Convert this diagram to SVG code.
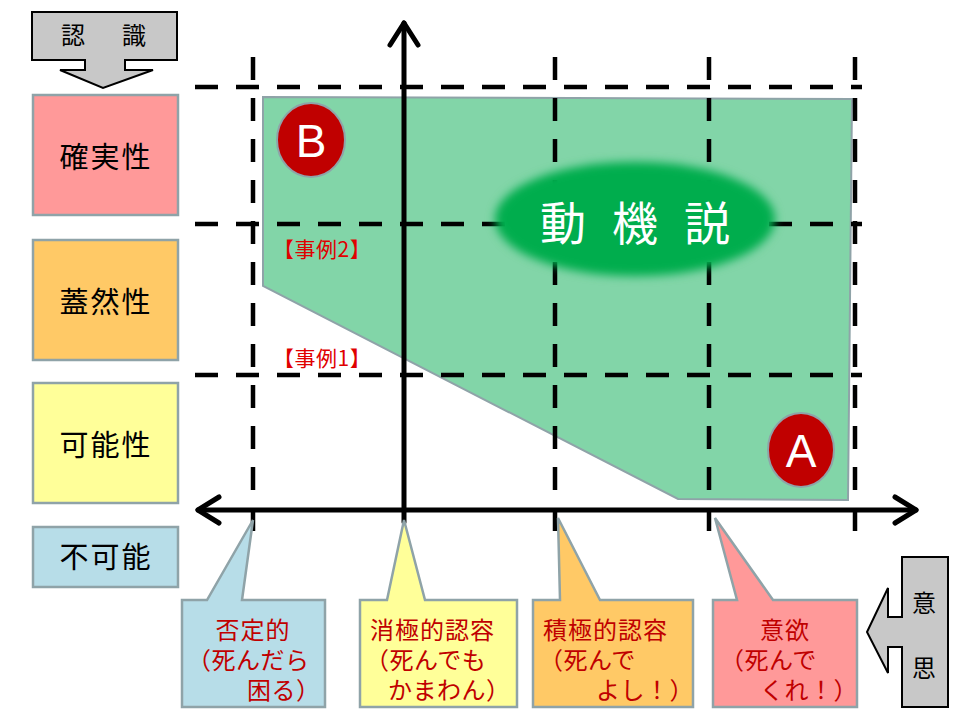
<svg xmlns="http://www.w3.org/2000/svg" width="960" height="720" viewBox="0 0 960 720">
<defs>
<filter id="blur" x="-20%" y="-30%" width="140%" height="160%"><feGaussianBlur stdDeviation="5"/></filter>
</defs>
<style>
text{font-family:"Noto Sans CJK JP","Liberation Sans",sans-serif;}
.lbl{stroke:#8fa3a8;stroke-width:2.5;}
.dash{stroke:#000;stroke-width:4.5;stroke-dasharray:23 18;fill:none;}
.axis{stroke:#000;stroke-width:5;fill:none;stroke-linecap:round;stroke-linejoin:round;}
.big{font-size:29px;fill:#000;text-anchor:middle;letter-spacing:2px;}
.red{font-size:24px;fill:#c00000;}
.case{font-size:21px;fill:#e00000;letter-spacing:0.5px;}
.garrow{fill:#c8c8c8;stroke:#000;stroke-width:2;}
.gt{font-size:24px;fill:#000;text-anchor:middle;}
.mv{font-size:46px;fill:#fff;text-anchor:middle;}
</style>
<rect width="960" height="720" fill="#fff"/>

<g id="region">
<polygon points="263,97 852,99 848,500 678,499 263,286" fill="#82d5a8" stroke="#8fa3a8" stroke-width="2"/>
</g>

<g id="grid">
<line class="dash" x1="195" y1="87" x2="862" y2="87"/>
<line class="dash" x1="195" y1="224" x2="862" y2="224"/>
<line class="dash" x1="195" y1="375" x2="862" y2="375"/>
<line class="dash" x1="253" y1="57" x2="253" y2="542"/>
<line class="dash" x1="555" y1="57" x2="555" y2="542"/>
<line class="dash" x1="709" y1="57" x2="709" y2="542"/>
<line class="dash" x1="855" y1="57" x2="855" y2="542"/>
</g>

<g id="axes">
<line class="axis" x1="404" y1="522" x2="404" y2="23"/>
<polyline class="axis" points="390,45 404,23 418,45"/>
<line class="axis" x1="198" y1="510" x2="916" y2="510"/>
<polyline class="axis" points="219,497 198,510 219,523"/>
<polyline class="axis" points="895,497 916,510 895,523"/>
</g>

<g id="motive">
<ellipse cx="635" cy="219" rx="140" ry="57" fill="#00ad4e" filter="url(#blur)"/>
<text class="mv" x="563" y="240">動</text>
<text class="mv" x="635" y="240">機</text>
<text class="mv" x="707" y="240">説</text>
</g>

<g id="B">
<ellipse cx="311" cy="140" rx="34" ry="37" fill="#c00000" stroke="#8fa3a8" stroke-width="2"/>
<text x="311" y="157" font-size="46" fill="#fff" text-anchor="middle" style="font-family:'Liberation Sans',sans-serif">B</text>
</g>
<g id="A">
<ellipse cx="801" cy="450" rx="33" ry="37" fill="#c00000" stroke="#8fa3a8" stroke-width="2"/>
<text x="801" y="467" font-size="46" fill="#fff" text-anchor="middle" style="font-family:'Liberation Sans',sans-serif">A</text>
</g>

<g id="case2"><text class="case" x="273" y="257">【事例2】</text></g>
<g id="case1"><text class="case" x="273" y="366">【事例1】</text></g>

<g id="ninshiki">
<path class="garrow" d="M32,12 L177,12 L177,60 L125,60 L125,70 L153,70 L103,88 L60,70 L85,70 L85,60 L32,60 Z"/>
<text class="gt" x="73" y="44">認</text>
<text class="gt" x="134" y="44">識</text>
</g>

<g id="ishi">
<path class="garrow" d="M948,557 L902,557 L902,617 L888,617 L888,588 L867,632 L888,673 L888,647 L902,647 L902,707 L948,707 Z"/>
<text class="gt" x="924" y="612">意</text>
<text class="gt" x="924" y="677">思</text>
</g>

<g id="kakujitsu">
<rect class="lbl" x="33" y="95" width="145" height="120" fill="#ff9999"/>
<text class="big" x="106" y="168">確実性</text>
</g>
<g id="gaizen">
<rect class="lbl" x="33" y="240" width="145" height="120" fill="#ffc966"/>
<text class="big" x="106" y="313">蓋然性</text>
</g>
<g id="kanou">
<rect class="lbl" x="33" y="383" width="145" height="120" fill="#ffff99"/>
<text class="big" x="106" y="456">可能性</text>
</g>
<g id="fukanou">
<rect class="lbl" x="33" y="527" width="145" height="60" fill="#b7dde8"/>
<text class="big" x="106" y="568">不可能</text>
</g>

<g id="c1">
<path class="lbl" d="M182,600 L207,600 L253,520 L242,600 L325,600 L325,707 L182,707 Z" fill="#b7dde8"/>
<text class="red" x="253" y="639" text-anchor="middle" letter-spacing="1">否定的</text>
<text class="red" x="187" y="669" letter-spacing="0.5">（死んだら</text>
<text class="red" x="247" y="699" letter-spacing="0.5">困る）</text>
</g>
<g id="c2">
<path class="lbl" d="M360,600 L387,600 L404,520 L425,600 L517,600 L517,707 L360,707 Z" fill="#ffff99"/>
<text class="red" x="370" y="639" letter-spacing="1">消極的認容</text>
<text class="red" x="365" y="669" letter-spacing="0.5">（死んでも</text>
<text class="red" x="388" y="699" letter-spacing="0.5">かまわん）</text>
</g>
<g id="c3">
<path class="lbl" d="M533,600 L560,600 L558,518 L600,600 L693,600 L693,707 L533,707 Z" fill="#ffc966"/>
<text class="red" x="543" y="639" letter-spacing="1">積極的認容</text>
<text class="red" x="539" y="669" letter-spacing="0.5">（死んで</text>
<text class="red" x="596" y="699" letter-spacing="0.5">よし！）</text>
</g>
<g id="c4">
<path class="lbl" d="M713,600 L737,600 L715,518 L773,600 L857,600 L857,707 L713,707 Z" fill="#ff9999"/>
<text class="red" x="785" y="639" text-anchor="middle" letter-spacing="1">意欲</text>
<text class="red" x="720" y="669" letter-spacing="0.5">（死んで</text>
<text class="red" x="760" y="699" letter-spacing="0.5">くれ！）</text>
</g>
</svg>
